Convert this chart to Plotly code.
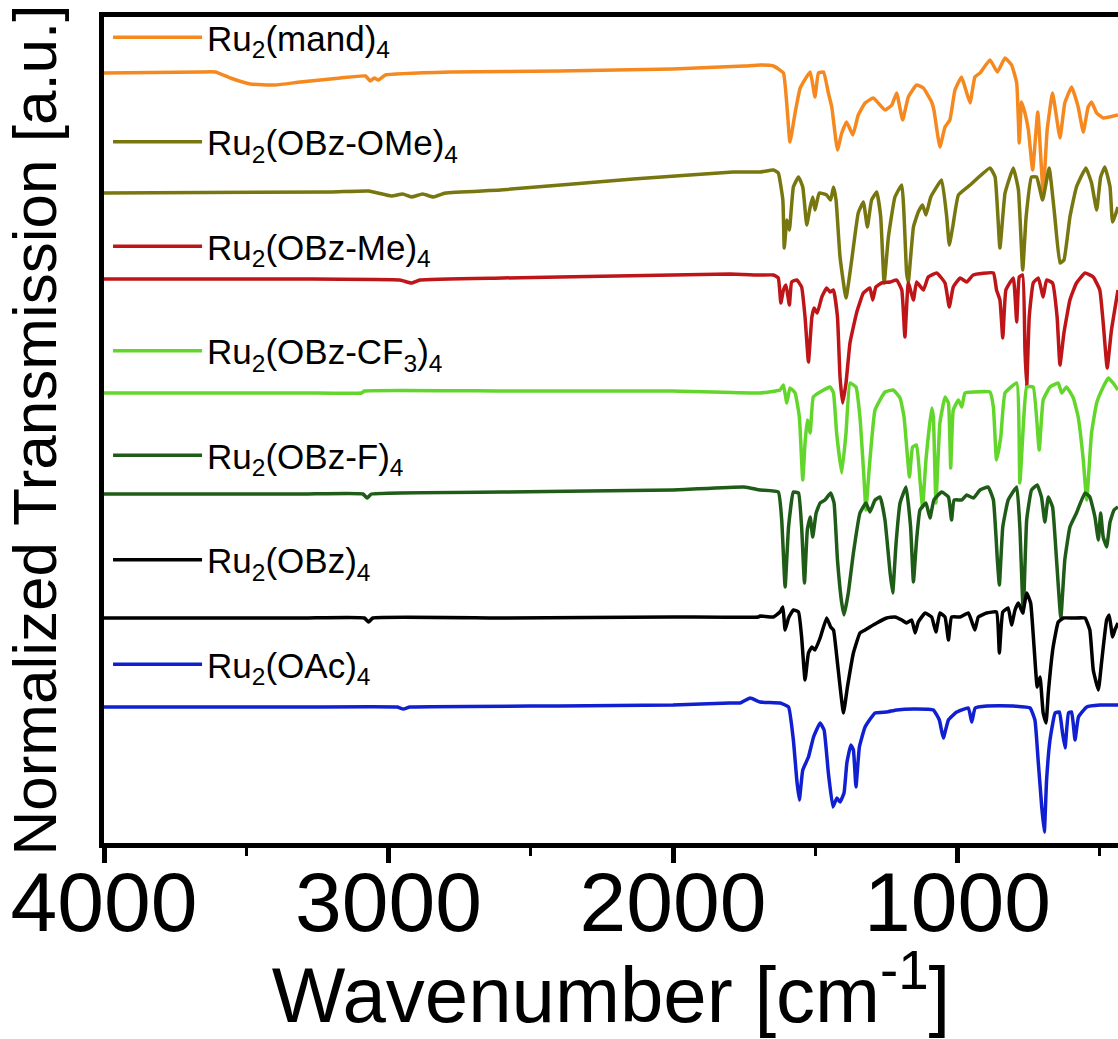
import plotly.graph_objects as go

# FT-IR spectra of diruthenium carboxylates, stacked with vertical offsets.
# x: wavenumber [cm-1], y: normalized transmission [a.u.] (offset included)

mand_wn = [4000, 3661, 3608, 3556, 3486, 3398, 3310, 3169, 3081, 3064,
           3050, 3036, 3011, 2783, 2400, 2000, 1750, 1694, 1647, 1612,
           1589, 1571, 1553, 1518, 1501, 1489, 1471, 1454, 1442, 1422,
           1407, 1390, 1368, 1349, 1325, 1296, 1255, 1231, 1214, 1193,
           1173, 1144, 1120, 1091, 1083, 1062, 1044, 1027, 1009, 986,
           974, 956, 939, 921, 886, 860, 833, 810, 792, 783,
           775, 763, 751, 736, 718, 699, 685, 666, 640, 623,
           599, 576, 558, 541, 529, 511, 488, 436]
mand_t = [770, 771, 771, 765, 759, 758, 761, 765, 767, 762,
          765, 763, 768, 771, 772, 774, 777, 778, 777, 770,
          701, 730, 755, 771, 746, 770, 771, 750, 736, 693,
          710, 721, 708, 728, 740, 745, 733, 738, 750, 723,
          746, 758, 755, 741, 733, 696, 716, 723, 753, 766,
          756, 740, 766, 770, 783, 771, 785, 778, 760, 700,
          741, 730, 713, 673, 731, 650, 713, 750, 705, 740,
          756, 736, 711, 736, 741, 730, 725, 728]

ome_wn = [4000, 3200, 3070, 2990, 2950, 2920, 2880, 2842, 2800, 2607,
          2140, 1789, 1694, 1647, 1630, 1614, 1609, 1600, 1591, 1577,
          1559, 1544, 1530, 1518, 1509, 1501, 1486, 1460, 1446, 1436,
          1427, 1413, 1392, 1372, 1349, 1331, 1317, 1302, 1284, 1270,
          1258, 1243, 1220, 1196, 1179, 1173, 1155, 1138, 1123, 1111,
          1094, 1056, 1038, 1029, 1017, 997, 956, 886, 868, 851,
          833, 804, 786, 771, 759, 740, 722, 701, 678, 658,
          640, 626, 605, 582, 549, 529, 511, 497, 482, 464,
          455, 436]
ome_t = [650, 651, 652, 647, 649, 646, 649, 646, 650, 653,
         664, 671, 671, 673, 670, 643, 595, 623, 613, 656,
         666, 656, 618, 636, 646, 633, 650, 648, 643, 656,
         643, 586, 545, 583, 630, 641, 616, 643, 651, 626,
         560, 606, 646, 658, 570, 561, 616, 631, 638, 628,
         646, 663, 626, 598, 616, 648, 658, 675, 666, 595,
         650, 675, 653, 573, 626, 666, 666, 643, 675, 626,
         580, 583, 626, 656, 675, 660, 633, 666, 676, 656,
         621, 636]

me_wn = [4000, 3300, 2960, 2920, 2890, 2600, 2200, 1800, 1694, 1647,
         1630, 1621, 1612, 1603, 1591, 1583, 1565, 1548, 1536, 1524,
         1512, 1504, 1493, 1477, 1460, 1448, 1436, 1422, 1413, 1404,
         1392, 1378, 1354, 1331, 1308, 1298, 1287, 1267, 1237, 1214,
         1196, 1185, 1173, 1155, 1144, 1120, 1103, 1073, 1044, 1029,
         1015, 991, 968, 945, 874, 863, 851, 841, 830, 804,
         792, 783, 771, 763, 757, 748, 734, 716, 699, 687,
         666, 650, 640, 626, 605, 582, 552, 523, 500, 488,
         474, 459, 436]
me_t = [564, 564, 563, 560, 563, 565, 567, 569, 568, 568,
        565, 540, 553, 558, 538, 561, 563, 556, 526, 481,
        526, 535, 530, 546, 555, 551, 553, 526, 466, 440,
        460, 500, 531, 550, 555, 543, 556, 560, 561, 563,
        553, 506, 560, 543, 561, 553, 566, 570, 560, 536,
        556, 565, 561, 568, 570, 553, 543, 505, 553, 565,
        521, 566, 568, 493, 456, 526, 560, 565, 546, 563,
        560, 526, 478, 510, 543, 560, 570, 566, 553, 520,
        475, 513, 553]

cf3_wn = [4000, 3300, 3095, 3085, 2600, 2000, 1694, 1624, 1612, 1600,
          1589, 1571, 1556, 1544, 1536, 1528, 1518, 1507, 1483, 1448,
          1436, 1425, 1407, 1392, 1378, 1357, 1343, 1329, 1322, 1310,
          1290, 1255, 1226, 1202, 1188, 1169, 1158, 1144, 1132, 1123,
          1111, 1091, 1085, 1076, 1062, 1044, 1032, 1024, 1015, 997,
          985, 974, 944, 886, 874, 863, 848, 833, 792, 781,
          767, 757, 734, 713, 699, 675, 646, 634, 617, 593,
          576, 558, 546, 529, 511, 488, 470, 453, 436]
cf3_t = [450, 450, 450, 452, 452, 452, 450, 453, 458, 440,
         455, 450, 426, 363, 400, 423, 410, 446, 451, 456,
         450, 410, 370, 410, 460, 456, 426, 366, 333, 376,
         433, 451, 453, 445, 426, 366, 396, 398, 363, 336,
         383, 435, 426, 340, 420, 446, 440, 375, 433, 443,
         436, 450, 451, 451, 436, 383, 406, 450, 460, 360,
         426, 456, 456, 393, 443, 456, 460, 450, 456, 445,
         426, 383, 343, 410, 440, 456, 465, 460, 453]

f_wn = [4000, 3300, 3090, 3075, 3060, 2600, 2000, 1750, 1694, 1630,
        1618, 1606, 1594, 1577, 1559, 1548, 1538, 1528, 1518, 1509,
        1497, 1483, 1466, 1446, 1434, 1422, 1407, 1399, 1384, 1366,
        1343, 1322, 1308, 1290, 1272, 1255, 1237, 1228, 1216, 1202,
        1181, 1165, 1155, 1144, 1132, 1111, 1097, 1083, 1056, 1032,
        1021, 1012, 985, 968, 944, 921, 892, 874, 860, 853,
        841, 822, 792, 781, 769, 757, 740, 720, 705, 693,
        681, 666, 652, 637, 623, 605, 582, 552, 535, 517,
        505, 497, 488, 476, 464, 450, 436]
f_t = [349, 349, 349, 345, 349, 351, 353, 356, 353, 351,
       323, 256, 316, 351, 350, 316, 260, 313, 326, 306,
       330, 340, 343, 350, 340, 283, 240, 228, 250, 290,
       330, 340, 331, 343, 346, 323, 270, 250, 300, 340,
       356, 316, 261, 303, 333, 340, 325, 343, 351, 346,
       323, 343, 343, 348, 345, 353, 356, 343, 283, 258,
       316, 343, 356, 316, 230, 323, 353, 358, 346, 321,
       346, 336, 283, 225, 283, 316, 330, 350, 346, 326,
       303, 330, 306, 296, 321, 333, 336]

obz_wn = [4000, 3300, 3085, 3070, 3055, 2600, 2000, 1700, 1694, 1647,
          1624, 1614, 1606, 1594, 1577, 1559, 1548, 1536, 1524, 1512,
          1501, 1483, 1460, 1446, 1436, 1422, 1401, 1387, 1366, 1343,
          1325, 1308, 1284, 1249, 1220, 1196, 1179, 1161, 1149, 1138,
          1114, 1091, 1076, 1062, 1044, 1032, 1021, 991, 962, 939,
          927, 898, 863, 853, 841, 822, 810, 798, 786, 771,
          757, 743, 731, 720, 710, 699, 689, 681, 664, 646,
          628, 593, 552, 535, 523, 505, 494, 476, 467, 455,
          447, 436]
obz_t = [225, 225, 225, 221, 225, 225, 226, 226, 227, 226,
         231, 236, 213, 225, 233, 231, 206, 163, 190, 196,
         193, 205, 225, 216, 213, 180, 130, 156, 190, 210,
         213, 216, 220, 225, 226, 223, 220, 223, 210, 221,
         230, 226, 211, 230, 226, 203, 226, 226, 230, 213,
         226, 230, 231, 190, 231, 235, 218, 233, 240, 230,
         250, 240, 196, 156, 166, 130, 120, 150, 196, 221,
         225, 225, 225, 213, 173, 153, 180, 223, 228, 206,
         213, 220]

oac_wn = [4000, 3300, 2970, 2948, 2925, 2400, 2000, 1800, 1764, 1729,
          1694, 1623, 1594, 1577, 1565, 1556, 1544, 1524, 1506, 1483,
          1469, 1454, 1438, 1424, 1413, 1399, 1389, 1375, 1366, 1357,
          1345, 1325, 1290, 1249, 1214, 1155, 1085, 1064, 1050, 1032,
          1003, 962, 950, 938, 897, 804, 745, 728, 716, 704,
          695, 687, 675, 657, 642, 631, 622, 610, 599, 587,
          575, 546, 499, 476, 436]
oac_t = [136, 136, 136, 134, 136, 137, 138, 140, 140, 145,
         141, 140, 136, 103, 63, 43, 73, 86, 106, 120,
         113, 70, 36, 45, 41, 50, 80, 98, 93, 56,
         96, 116, 130, 131, 133, 134, 133, 123, 105, 123,
         131, 135, 121, 135, 137, 137, 135, 123, 80, 36,
         11, 63, 103, 130, 131, 110, 95, 130, 131, 103,
         126, 136, 138, 138, 138]

names = ["Ru<sub>2</sub>(mand)<sub>4</sub>",
         "Ru<sub>2</sub>(OBz-OMe)<sub>4</sub>",
         "Ru<sub>2</sub>(OBz-Me)<sub>4</sub>",
         "Ru<sub>2</sub>(OBz-CF<sub>3</sub>)<sub>4</sub>",
         "Ru<sub>2</sub>(OBz-F)<sub>4</sub>",
         "Ru<sub>2</sub>(OBz)<sub>4</sub>",
         "Ru<sub>2</sub>(OAc)<sub>4</sub>"]
colors = ["#F5891F", "#77760F", "#BE1518", "#62D62A", "#1F5C18", "#000000", "#1020D0"]
spectra = [(mand_wn, mand_t), (ome_wn, ome_t), (me_wn, me_t), (cf3_wn, cf3_t),
           (f_wn, f_t), (obz_wn, obz_t), (oac_wn, oac_t)]

FONT = "Liberation Sans, Arial, Helvetica, sans-serif"

fig = go.Figure()
for (wn, t), name, color in zip(spectra, names, colors):
    fig.add_trace(go.Scatter(
        x=wn, y=t, mode="lines", name=name, legendgroup=name,
        line=dict(color=color, width=3.5, shape="spline", smoothing=0.35),
    ))

fig.update_layout(
    width=1118, height=1039,
    margin=dict(l=104, r=0, t=17, b=196, autoexpand=False),
    paper_bgcolor="white", plot_bgcolor="white",
    font=dict(family=FONT, color="black"),
    showlegend=True,
    legend=dict(
        x=0.004, y=1.011, xanchor="left", yanchor="top",
        font=dict(size=35, family=FONT, color="black"),
        tracegroupgap=56, itemwidth=89, bgcolor="rgba(0,0,0,0)",
        maxheight=1000,
    ),
    xaxis=dict(
        range=[4000, 436], tick0=0, dtick=1000, tickangle=0,
        ticks="outside", ticklen=15, tickwidth=5, tickcolor="black",
        minor=dict(dtick=500, ticks="outside", ticklen=8, tickwidth=3, tickcolor="black"),
        showline=True, linewidth=5, linecolor="black", mirror=True,
        showgrid=False, zeroline=False, automargin=False,
        tickfont=dict(size=84, family=FONT), ticklabelstandoff=-33,
        title=dict(text="Wavenumber [cm<sup>-1</sup>]", font=dict(size=78, family=FONT), standoff=50),
    ),
    yaxis=dict(
        range=[0, 826], showline=True, linewidth=5, linecolor="black",
        showticklabels=False, ticks="", showgrid=False, zeroline=False, automargin=False,
        title=dict(text="Normalized Transmission [a.u.]", font=dict(size=62, family=FONT), standoff=27),
    ),
)

fig.write_html("out.html")
